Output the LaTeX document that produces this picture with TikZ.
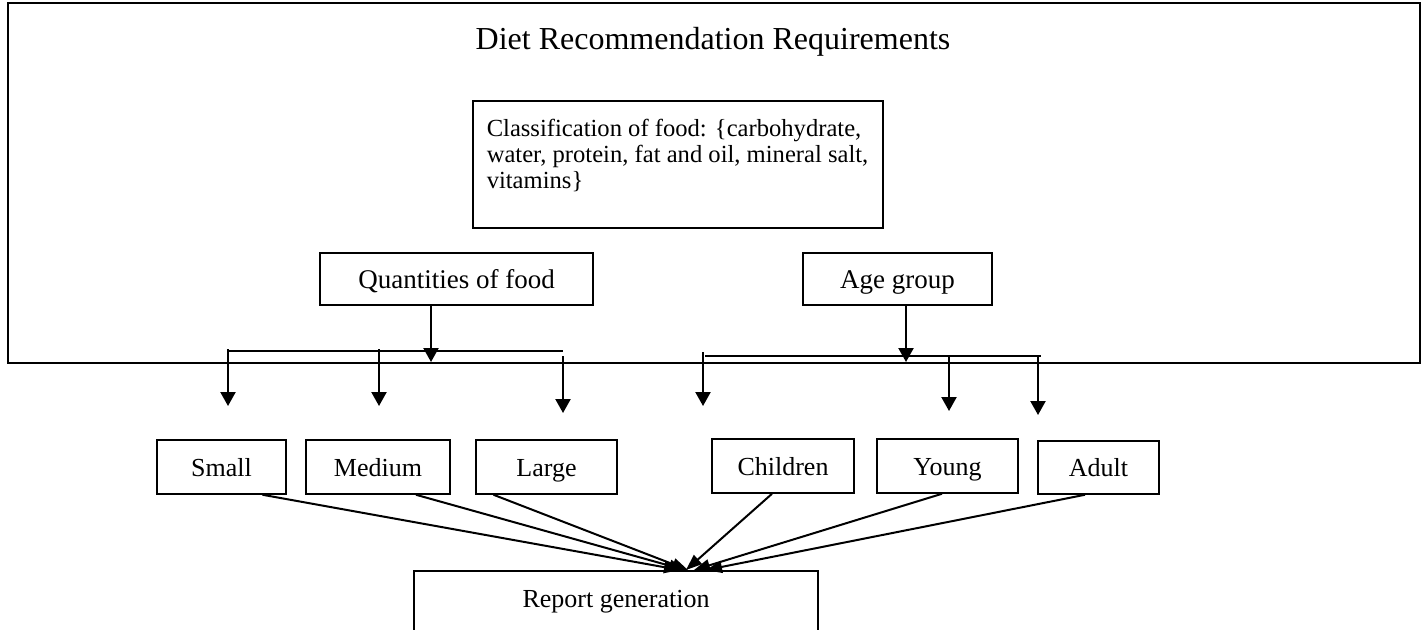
\documentclass[tikz,border=0pt]{standalone}
\usepackage{fontspec}
\setmainfont{Liberation Serif}
\usetikzlibrary{arrows.meta,positioning}

\tikzset{
  box/.style={draw, line width=0.75pt, inner sep=2pt, font=\fontsize{13}{15}\selectfont},
  label box/.style={box, text height=10.5pt, text depth=1.5pt},
  vline/.style={line width=0.7pt},
  downarrow/.style={line width=1.1pt, -{Triangle[length=7pt,width=7.5pt]}},
  feedarrow/.style={line width=1pt, -{Triangle[length=8pt,width=6pt]}}
}

\begin{document}
\begin{tikzpicture}[x=0.5pt,y=-0.5pt]
  \useasboundingbox (0,0) rectangle (1427,629);

  \node[draw, line width=1pt, minimum width=706pt, minimum height=180pt] (req) at (714,182.5) {};
  \node[font=\fontsize{16}{19}\selectfont] (title) at (713,42) {Diet Recommendation Requirements};

  \node[box, inner xsep=7pt, inner ysep=9pt, anchor=north west] (class) at (472,100)
    {\fontsize{12.3}{13}\selectfont\parbox[t][45.5pt][t]{191pt}{\raggedright
      Classification of food: \{carbohydrate,\\
      water, protein, fat and oil, mineral salt,\\
      vitamins\}}};

  \node[label box, minimum width=136.5pt, minimum height=26pt, font=\fontsize{13.5}{16}\selectfont] (qty) at (456.5,279) {Quantities of food};
  \node[label box, minimum width=94.5pt, minimum height=26pt, font=\fontsize{13.5}{16}\selectfont] (age) at (897.5,279) {Age group};

  \node[label box, minimum width=64.5pt, minimum height=27pt] (small) at (221.5,467) {Small};
  \node[label box, minimum width=72pt, minimum height=27pt] (medium) at (378,467) {Medium};
  \node[label box, minimum width=70.5pt, minimum height=27pt] (large) at (546.5,467) {Large};
  \node[label box, minimum width=71pt, minimum height=27pt] (children) at (783,466) {Children};
  \node[label box, minimum width=70.5pt, minimum height=27pt] (young) at (947.5,466) {Young};
  \node[label box, minimum width=60.5pt, minimum height=26.5pt] (adult) at (1098.5,467.5) {Adult};

  \node[box, anchor=north, minimum width=202pt, text height=13pt, inner ysep=5.5pt, text depth=40pt] (report) at (616,570) {Report generation};

  \coordinate (qtyhit) at (431,362);
  \coordinate (agehit) at (906,362);
  \draw[downarrow] (qty.south -| qtyhit) -- (qtyhit);
  \draw[downarrow] (age.south -| agehit) -- (agehit);

  \coordinate (qtyL) at (228,351);
  \coordinate (qtyR) at (563,351);
  \coordinate (ageL) at (705,356);
  \coordinate (ageR) at (1041,356);
  \draw[vline] (qtyL) -- (qtyR);
  \draw[vline] (ageL) -- (ageR);

  \foreach \name/\x/\top/\tip in {s/228/349/406, m/379/349/406, l/563/356/413,
                                  c/703/352/406, y/949/357/411, a/1038/357/415}{
    \coordinate (\name top) at (\x,\top);
    \coordinate (\name tip) at (\x,\tip);
    \draw[downarrow] (\name top) -- (\name tip);
  }

  \draw[feedarrow] ([xshift=20.5pt]small.south) -- ([xshift=32pt]report.north);
  \draw[feedarrow] ([xshift=19pt]medium.south) -- ([xshift=34.5pt]report.north);
  \draw[feedarrow] ([xshift=-26.5pt]large.south) -- ([xshift=36pt]report.north);
  \draw[feedarrow] ([xshift=-5.5pt]children.south) -- ([xshift=35pt]report.north);
  \draw[feedarrow] ([xshift=-2.75pt]young.south) -- ([xshift=39pt]report.north);
  \draw[feedarrow] ([xshift=-6.75pt]adult.south) -- ([xshift=45pt]report.north);
\end{tikzpicture}
\end{document}
